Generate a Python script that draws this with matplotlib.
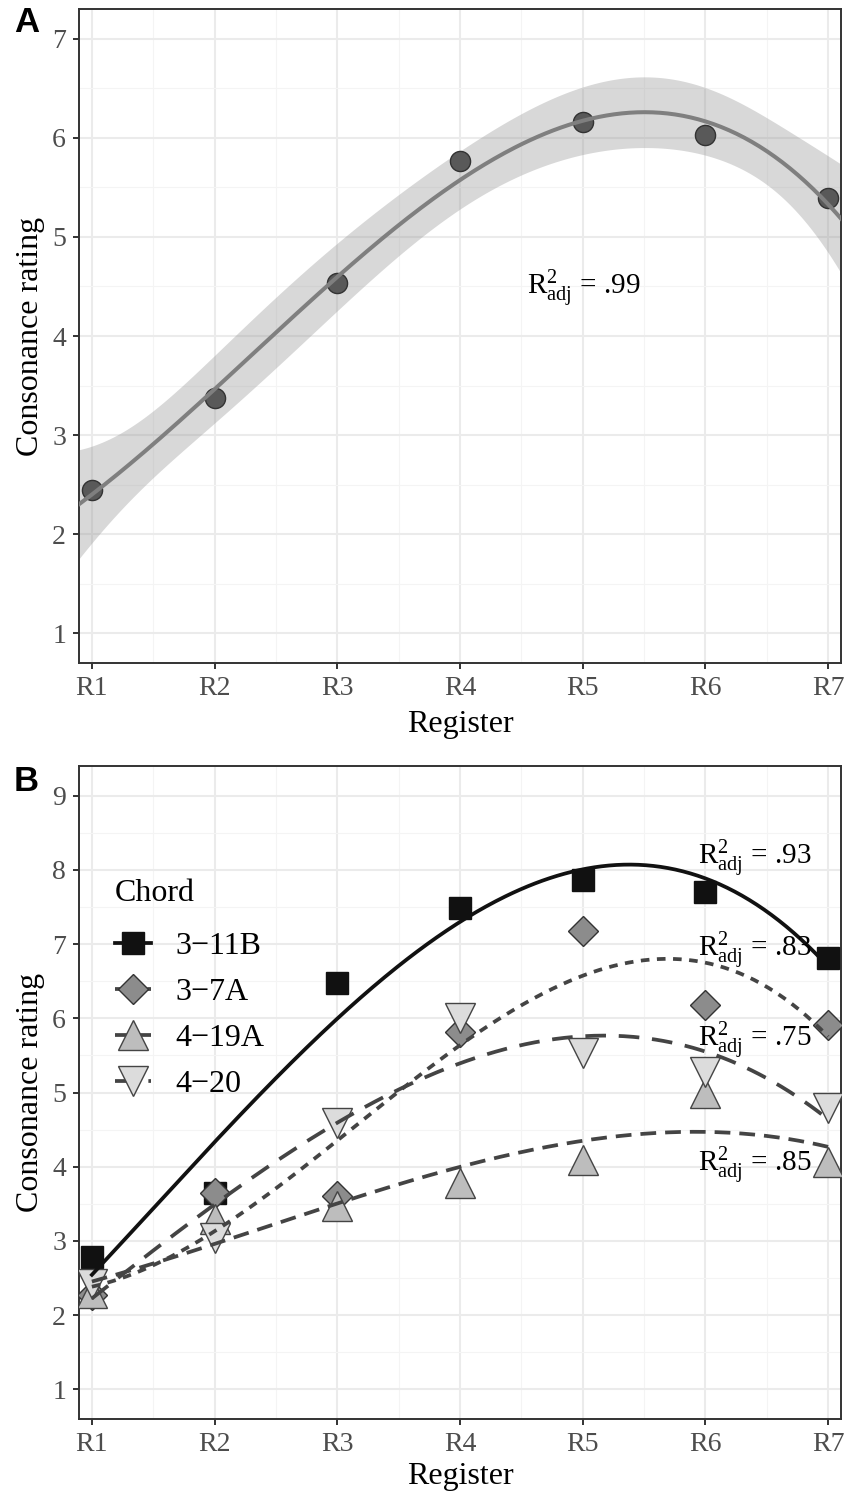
import numpy as np
import matplotlib.pyplot as plt
from matplotlib.lines import Line2D

plt.rcParams['font.family'] = ['Liberation Serif', 'DejaVu Serif']
plt.rcParams['mathtext.fontset'] = 'custom'
plt.rcParams['mathtext.rm'] = 'Liberation Serif'
plt.rcParams['mathtext.it'] = 'Liberation Serif:italic'

# register levels on the x axis
registers = ['R1', 'R2', 'R3', 'R4', 'R5', 'R6', 'R7']
reg_pos = np.arange(1, 8)

# panel A: mean consonance rating per register
mean_rating = [2.45, 3.37, 4.53, 5.77, 6.16, 6.03, 5.39]
r2_mean = '.99'

# panel B: rating per chord
chords = ['3\u221211B', '3\u22127A', '4\u221219A', '4\u221220']
rating_3_11B = [2.78, 3.65, 6.47, 7.49, 7.86, 7.70, 6.81]
rating_3_7A = [2.27, 3.64, 3.60, 5.81, 7.17, 6.18, 5.91]
rating_4_19A = [2.30, 3.30, 3.47, 3.78, 4.09, 4.99, 4.07]
rating_4_20 = [2.42, 3.04, 4.59, 6.00, 5.53, 5.28, 4.79]
r2_chords = ['.93', '.83', '.85', '.75']

GRID_MAJ = '#ebebeb'
GRID_MIN = '#f4f4f4'
INK = '#333333'


def cubic_fit(x, y, xs):
    # lm(y ~ poly(x, 3)) with 95% confidence band
    x = np.asarray(x, float)
    y = np.asarray(y, float)
    X = np.vander(x, 4)
    beta, *_ = np.linalg.lstsq(X, y, rcond=None)
    resid = y - X @ beta
    s2 = resid @ resid / (len(x) - 4)
    Xs = np.vander(xs, 4)
    cov = np.linalg.inv(X.T @ X)
    se = np.sqrt(s2 * np.einsum('ij,jk,ik->i', Xs, cov, Xs))
    fit = Xs @ beta
    t = 3.182446  # qt(.975, df = 3)
    return fit, fit - t * se, fit + t * se


def style_axes(ax, ylim, yticks, xlab_y):
    ax.set_xlim(0.895, 7.105)
    ax.set_ylim(*ylim)
    ax.set_xticks(reg_pos)
    ax.set_xticklabels(registers)
    ax.set_xticks(reg_pos[:-1] + 0.5, minor=True)
    ax.set_yticks(yticks)
    ax.set_yticks(np.array(yticks[:-1]) + 0.5, minor=True)
    ax.grid(which='major', color=GRID_MAJ, lw=1.5, zorder=0)
    ax.grid(which='minor', color=GRID_MIN, lw=0.8, zorder=0)
    ax.set_axisbelow(True)
    ax.tick_params(which='major', length=4.3, width=1.4, color=INK,
                   labelsize=20, labelcolor='#4d4d4d', pad=5)
    ax.tick_params(which='minor', length=0)
    for sp in ax.spines.values():
        sp.set_color(INK)
        sp.set_linewidth(1.4)
    ax.set_xlabel('Register', fontsize=23)
    ax.set_ylabel('Consonance rating', fontsize=23)
    ax.xaxis.set_label_coords(0.5, xlab_y)
    ax.yaxis.set_label_coords(-0.044, 0.5)


fig = plt.figure(figsize=(8.44, 14.91), dpi=100)
axA = fig.add_axes([79 / 844, 1 - 663 / 1491, 762 / 844, 654 / 1491])
axB = fig.add_axes([79 / 844, 1 - 1419 / 1491, 762 / 844, 653 / 1491])

# ---- panel A
xs_full = np.linspace(0.895, 7.105, 300)
fit, lo, hi = cubic_fit(reg_pos, mean_rating, xs_full)
axA.fill_between(xs_full, lo, hi, color='#999999', alpha=0.38, lw=0, zorder=2)
axA.plot(reg_pos, mean_rating, 'o', ms=14.5, mfc='#595959', mec=INK, mew=1.0, zorder=3)
axA.plot(xs_full, fit, color='#7f7f7f', lw=2.9, zorder=4)
axA.text(4.545, 4.41, r'$\mathrm{R}^{2}_{\mathrm{adj}}$ = ' + r2_mean, fontsize=21,
         ha='left', va='baseline', zorder=5)
style_axes(axA, (0.7, 7.3), [1, 2, 3, 4, 5, 6, 7], -0.072)

# ---- panel B
series = [rating_3_11B, rating_3_7A, rating_4_19A, rating_4_20]
markers = ['s', 'D', '^', 'v']
msizes = [16.5, 15.0, 21.5, 21.5]
fills = ['#111111', '#8c8c8c', '#bdbdbd', '#dcdcdc']
edges = ['#111111', INK, '#444444', '#444444']
line_cols = ['#111111', '#444444', '#444444', '#444444']
line_styles = ['-', (0, (2.3, 2.0)), (0, (4.2, 2.4)), (0, (5.5, 3.4))]
label_pos = {'.93': (5.94, 8.06), '.83': (5.94, 6.82),
             '.75': (5.94, 5.61), '.85': (5.94, 3.92)}

xs = np.linspace(1, 7, 300)
handles = []
for i, ys in enumerate(series):
    axB.plot(reg_pos, ys, markers[i], ms=msizes[i], mfc=fills[i], mec=edges[i],
             mew=1.0, zorder=3 + i * 0.1)
for i, ys in enumerate(series):
    fit, _, _ = cubic_fit(reg_pos, ys, xs)
    axB.plot(xs, fit, color=line_cols[i], lw=2.7, ls=line_styles[i], zorder=4)
    handles.append(Line2D([], [], color=line_cols[i], lw=2.7, ls=line_styles[i],
                          marker=markers[i], ms=msizes[i], mfc=fills[i],
                          mec=edges[i], mew=1.0))
for r2 in r2_chords:
    x0, y0 = label_pos[r2]
    axB.text(x0, y0, r'$\mathrm{R}^{2}_{\mathrm{adj}}$ = ' + r2, fontsize=21,
             ha='left', va='baseline', zorder=6)

leg = axB.legend(handles, chords, title='Chord', loc='upper left',
                 bbox_to_anchor=(0.028, 0.849), frameon=False, fontsize=23,
                 title_fontsize=23, handlelength=1.15, handletextpad=0.75,
                 labelspacing=0.52, borderpad=0.45, borderaxespad=0)
leg._legend_box.align = 'left'
leg._legend_box.sep = 17  # a bit more room under the title
style_axes(axB, (0.6, 9.4), [1, 2, 3, 4, 5, 6, 7, 8, 9], -0.066)

# panel letters
fig.text(14 / 844, 1 - 23 / 1491, 'A', fontsize=25, fontweight='bold',
         family='Liberation Sans', va='center', ha='left')
fig.text(14 / 844, 1 - 782 / 1491, 'B', fontsize=25, fontweight='bold',
         family='Liberation Sans', va='center', ha='left')

fig.savefig('out.png', dpi=100)
